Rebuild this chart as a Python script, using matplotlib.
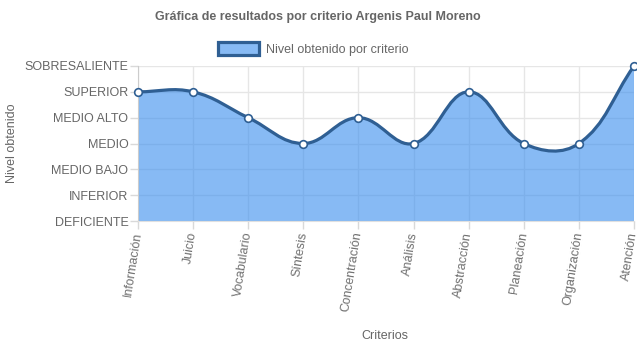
import matplotlib
matplotlib.use("Agg")
import matplotlib.pyplot as plt
from matplotlib.path import Path
from matplotlib.patches import PathPatch, Patch
import numpy as np

plt.rcParams['font.family'] = ['Liberation Sans', 'DejaVu Sans']

criterios = ['Información', 'Juicio', 'Vocabulario', 'Síntesis', 'Concentración',
             'Análisis', 'Abstracción', 'Planeación', 'Organización', 'Atención']
niveles = ['DEFICIENTE', 'INFERIOR', 'MEDIO BAJO', 'MEDIO', 'MEDIO ALTO',
           'SUPERIOR', 'SOBRESALIENTE']
valores = [5, 5, 4, 3, 4, 3, 5, 3, 3, 6]

W, H = 637, 348
fig = plt.figure(figsize=(W / 100, H / 100), dpi=100)
x0, x1, y0, y1 = 138, 634, 66, 221
ax = fig.add_axes([x0 / W, 1 - y1 / H, (x1 - x0) / W, (y1 - y0) / H])
ax.set_xlim(0, len(criterios) - 1)
ax.set_ylim(0, len(niveles) - 1)

# chart.js style bezier (tension 0.4), computed in pixel units
sx = (x1 - x0) / (len(criterios) - 1)
sy = (y1 - y0) / (len(niveles) - 1)
pts = np.array([[i * sx, v * sy] for i, v in enumerate(valores)], dtype=float)
t = 0.4
n = len(pts)
cprev = pts.copy()
cnext = pts.copy()
for i in range(n):
    p0 = pts[i - 1] if i > 0 else pts[i]
    p1 = pts[i]
    p2 = pts[i + 1] if i < n - 1 else pts[i]
    d01 = np.hypot(*(p1 - p0))
    d12 = np.hypot(*(p2 - p1))
    s01 = d01 / (d01 + d12) if d01 + d12 else 0
    s12 = d12 / (d01 + d12) if d01 + d12 else 0
    cprev[i] = p1 - t * s01 * (p2 - p0)
    cnext[i] = p1 + t * s12 * (p2 - p0)
top = (len(niveles) - 1) * sy
cprev[:, 1] = np.clip(cprev[:, 1], 0, top)
cnext[:, 1] = np.clip(cnext[:, 1], 0, top)

verts = [pts[0]]
codes = [Path.MOVETO]
for i in range(n - 1):
    verts += [cnext[i], cprev[i + 1], pts[i + 1]]
    codes += [Path.CURVE4] * 3
verts = np.array(verts) / [sx, sy]

fill_verts = np.vstack([verts, [[n - 1, 0], [0, 0], verts[0]]])
fill_codes = codes + [Path.LINETO, Path.LINETO, Path.CLOSEPOLY]

line_col = '#2f5f93'
ax.add_patch(PathPatch(Path(fill_verts, fill_codes), facecolor=(0.22, 0.55, 0.93, 0.6),
                       edgecolor='none', zorder=2))
ax.add_patch(PathPatch(Path(verts, codes), facecolor='none', edgecolor=line_col,
                       lw=2.3, zorder=3))
ax.plot(range(n), valores, 'o', ms=5.5, mfc='white', mec=line_col, mew=1.2,
        zorder=4, clip_on=False)

grid_col = '#d9d9d9'
ax.set_xticks(range(n))
ax.set_xticklabels(criterios, rotation=81, ha='right', va='center',
                   rotation_mode='anchor', fontsize=9, color='#707070')
ax.set_yticks(range(len(niveles)))
ax.set_yticklabels(niveles, fontsize=9, color='#666666')
ax.tick_params(axis='both', length=6, color=grid_col, width=1, pad=1)
ax.tick_params(axis='x', pad=2)
ax.grid(True, color='#e6e6e6', lw=1, zorder=1)
for s in ax.spines.values():
    s.set_visible(False)
ax.spines['left'].set_visible(True)
ax.spines['left'].set_color('#cccccc')
ax.spines['bottom'].set_visible(True)
ax.spines['bottom'].set_color('#e0e0e0')
ax.set_axisbelow(True)

fig.text(318 / W, 1 - 17 / H, 'Gráfica de resultados por criterio Argenis Paul Moreno',
         ha='center', va='center', fontsize=9, fontweight='bold', color='#666666')
fig.text(12 / W, 1 - 143 / H, 'Nivel obtenido', rotation=90, ha='center', va='center',
         fontsize=9, color='#666666')
fig.text(385 / W, 1 - 336 / H, 'Criterios', ha='center', va='center',
         fontsize=9, color='#666666')

handle = Patch(facecolor=(0.22, 0.55, 0.93, 0.6), edgecolor=line_col, lw=2.3)
leg = fig.legend([handle], ['Nivel obtenido por criterio'], loc='center',
                 bbox_to_anchor=(313 / W, 1 - 49 / H), frameon=False, fontsize=9,
                 handlelength=3.3, handleheight=1.2, handletextpad=0.5)
for txt in leg.get_texts():
    txt.set_color('#666666')

fig.savefig('out.png', dpi=100)
